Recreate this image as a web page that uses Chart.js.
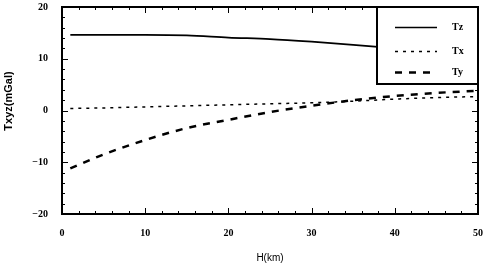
<!DOCTYPE html>
<html>
<head>
<meta charset="utf-8">
<script src="https://cdn.jsdelivr.net/npm/chart.js@4"></script>
<style>
  body { margin: 0; background: #fff; }
  #wrap { width: 485px; height: 269px; }
</style>
</head>
<body>
<div id="wrap"><canvas id="txyzChart" width="485" height="269"></canvas></div>
<script>
// depth H (km) and the three gravity gradient components (mGal)
const heights = [1, 5, 10, 15, 20, 25, 30, 35, 40, 45, 50];
const tzValues = [14.6, 14.6, 14.6, 14.5, 14.1, 13.8, 13.3, 12.7, 12.0, 11.3, 10.6];
const txValues = [0.4, 0.5, 0.7, 0.9, 1.1, 1.3, 1.5, 1.8, 2.2, 2.5, 2.7];
const tyValues = [-11.2, -8.5, -5.7, -3.4, -1.8, -0.3, 0.9, 2.0, 2.8, 3.4, 3.8];
const seriesNames = ['Tz', 'Tx', 'Ty'];
const yTitle = 'Txyz(mGal)';

function toPoints(ys) {
  return heights.map((h, i) => ({ x: h, y: ys[i] }));
}

const tickFont = { family: "'Liberation Serif', serif", size: 10, weight: 'bold' };

// frame + inward ticks like the original plot
const framePlugin = {
  id: 'frame',
  afterDraw(chart) {
    const ctx = chart.ctx;
    const a = chart.chartArea;
    const xs = chart.scales.x, ys = chart.scales.y;
    ctx.save();
    ctx.strokeStyle = '#000';
    ctx.lineWidth = 1;
    for (let v = 0; v <= 50; v += 2) {
      const px = Math.round(xs.getPixelForValue(v)) + 0.5;
      const len = v % 10 === 0 ? 6 : 3;
      ctx.beginPath();
      ctx.moveTo(px, a.top); ctx.lineTo(px, a.top + len);
      ctx.moveTo(px, a.bottom); ctx.lineTo(px, a.bottom - len);
      ctx.stroke();
    }
    for (let v = -20; v <= 20; v += 2) {
      const py = Math.round(ys.getPixelForValue(v)) + 0.5;
      const len = v % 10 === 0 ? 6 : 3;
      ctx.beginPath();
      ctx.moveTo(a.left, py); ctx.lineTo(a.left + len, py);
      ctx.moveTo(a.right, py); ctx.lineTo(a.right - len, py);
      ctx.stroke();
    }
    ctx.lineWidth = 2;
    ctx.strokeRect(a.left, a.top, a.right - a.left, a.bottom - a.top);

    // y axis title sits a bit above the middle in the original
    ctx.translate(9, 101);
    ctx.rotate(-Math.PI / 2);
    ctx.fillStyle = '#000';
    ctx.font = "bold 11px 'Liberation Sans', sans-serif";
    ctx.textAlign = 'center';
    ctx.textBaseline = 'middle';
    ctx.fillText(yTitle, 0, 0);
    ctx.restore();
  }
};

// boxed legend in the top right corner of the plot
const boxLegendPlugin = {
  id: 'boxLegend',
  afterDraw(chart) {
    const ctx = chart.ctx;
    const a = chart.chartArea;
    const w = 101, h = 77;
    const x0 = a.right - w, y0 = a.top;
    ctx.save();
    ctx.fillStyle = '#fff';
    ctx.fillRect(x0, y0, w, h);
    ctx.strokeStyle = '#000';
    ctx.lineWidth = 2;
    ctx.strokeRect(x0, y0, w, h);
    const rows = [20, 44, 65];
    chart.data.datasets.forEach((ds, i) => {
      const y = y0 + rows[i] + 0.5;
      ctx.beginPath();
      ctx.setLineDash(ds.borderDash || []);
      ctx.lineWidth = ds.borderWidth;
      ctx.moveTo(x0 + 18, y);
      ctx.lineTo(x0 + 60, y);
      ctx.stroke();
      ctx.setLineDash([]);
      ctx.fillStyle = '#000';
      ctx.font = "bold 10px 'Liberation Serif', serif";
      ctx.textBaseline = 'middle';
      ctx.fillText(ds.label, x0 + 75, y);
    });
    ctx.restore();
  }
};

const data = {
  datasets: [{
    label: seriesNames[0],
    data: toPoints(tzValues),
    borderColor: '#000',
    borderWidth: 1.7,
    pointRadius: 0,
    cubicInterpolationMode: 'monotone'
  }, {
    label: seriesNames[1],
    data: toPoints(txValues),
    borderColor: '#000',
    borderWidth: 1.5,
    borderDash: [3, 5],
    pointRadius: 0,
    cubicInterpolationMode: 'monotone'
  }, {
    label: seriesNames[2],
    data: toPoints(tyValues),
    borderColor: '#000',
    borderWidth: 2.5,
    borderDash: [7, 7],
    pointRadius: 0,
    cubicInterpolationMode: 'monotone'
  }]
};

const config = {
  type: 'line',
  data: data,
  options: {
    responsive: false,
    animation: false,
    layout: { padding: { top: 7, right: 7, left: 0, bottom: 0 } },
    plugins: {
      legend: { display: false },
      tooltip: { enabled: false }
    },
    scales: {
      x: {
        type: 'linear',
        min: 0,
        max: 50,
        grid: { display: false, drawTicks: false },
        border: { display: false },
        ticks: {
          stepSize: 10,
          padding: 13,
          maxRotation: 0,
          color: '#000',
          font: tickFont
        },
        title: {
          display: true,
          text: 'H(km)',
          color: '#000',
          font: { family: "'Liberation Sans', sans-serif", size: 10 },
          padding: { top: 0, bottom: 5 }
        },
        afterFit(scale) {
          scale.height = 55;
          scale.paddingLeft = 0;
          scale.paddingRight = 0;
        }
      },
      y: {
        min: -20,
        max: 20,
        grid: { display: false, drawTicks: false },
        border: { display: false },
        ticks: {
          stepSize: 10,
          padding: 14,
          color: '#000',
          font: tickFont,
          callback: v => String(v).replace('-', '\u2212')
        },
        afterFit(scale) {
          scale.width = 62;
          scale.paddingTop = 0;
          scale.paddingBottom = 0;
        }
      }
    }
  },
  plugins: [framePlugin, boxLegendPlugin]
};

const txyzChart = new Chart(document.getElementById('txyzChart'), config);
</script>
</body>
</html>
